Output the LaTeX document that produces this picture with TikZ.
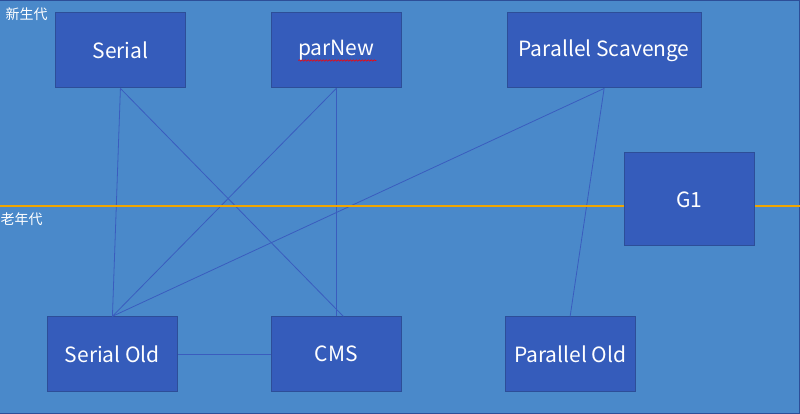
\documentclass[tikz,border=0pt]{standalone}
\usepackage{fontspec}
\setmainfont{Noto Sans CJK SC}
\usetikzlibrary{positioning,decorations.pathmorphing}

\definecolor{slidebg}{RGB}{74,137,202}
\definecolor{boxfill}{RGB}{53,92,187}
\definecolor{boxline}{RGB}{45,78,152}
\definecolor{linkblue}{RGB}{58,92,190}
\definecolor{genorange}{RGB}{240,165,0}

\begin{document}
\begin{tikzpicture}[
  x=1pt,y=-1pt,
  gc/.style={draw=boxline,line width=1pt,fill=boxfill,text=white,
    minimum width=130pt,minimum height=75pt,inner sep=0pt,
    font=\fontsize{21}{25}\selectfont},
  genlabel/.style={text=white,inner sep=0pt,anchor=west,
    font=\fontsize{14}{16}\selectfont},
  link/.style={draw=linkblue,line width=0.8pt},
  genline/.style={fill=genorange},
  node distance=85pt
]
  \fill[slidebg] (0,0) rectangle (800,414);
  \draw[boxline,line width=1pt] (0,0.5) -- (799.5,0.5) -- (799.5,413.5) -- (0,413.5);

  % young generation
  \node[gc] (serial) at (120,50.5) {Serial};
  \node[gc,right=of serial] (parnew) {parNew};
  \node[gc,minimum width=194pt,right=105pt of parnew] (parscav) {Parallel Scavenge};

  % old generation
  \node[gc] (serialold) at (112,354.5) {Serial Old};
  \node[gc,right=93pt of serialold] (cms) {CMS};
  \node[gc,right=103pt of cms] (parold) {Parallel Old};

  \node[gc,minimum height=93pt] (g1) at (689,199.5) {G1};

  \node[genlabel] (younglabel) at (5,14) {新生代};
  \node[genlabel] (oldlabel) at (0,219.5) {老年代};

  \draw[red,line width=0.6pt,decorate,decoration={snake,amplitude=0.7pt,segment length=3pt}]
    ([xshift=-38pt,yshift=-10pt]parnew.center) -- ([xshift=40pt,yshift=-10pt]parnew.center);

  \draw[link] (serial.south) -- (serialold.north);
  \draw[link] (serial.south) -- ([xshift=7pt]cms.north);
  \draw[link] (parnew.south) -- (serialold.north);
  \draw[link] (parnew.south) -- (cms.north);
  \draw[link] (parscav.south) -- (serialold.north);
  \draw[link] (parscav.south) -- (parold.north);
  \draw[link] (serialold.east) -- (cms.west);

  \coordinate (lineleft) at (0,205.2);
  \coordinate (lineright) at (800,206.8);
  \path[genline] (lineleft) rectangle (g1.west |- lineright);
  \path[genline] (g1.east |- lineleft) rectangle (lineright);
\end{tikzpicture}
\end{document}
